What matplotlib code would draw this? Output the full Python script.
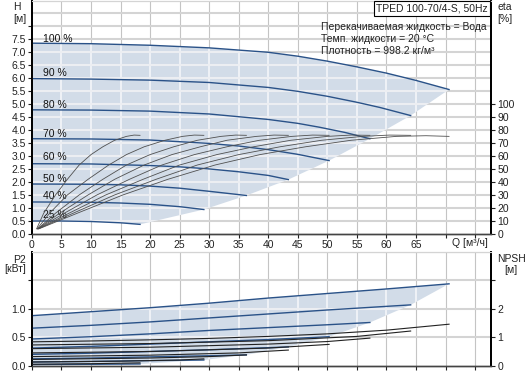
import matplotlib
matplotlib.use('Agg')
import matplotlib.pyplot as plt
from matplotlib.patches import Polygon

plt.rcParams['font.family'] = ['Liberation Sans', 'DejaVu Sans']
plt.rcParams['font.size'] = 7

W, H_PX = 531, 374

# ---------------- data ----------------
speed_labels = ['100 %', '90 %', '80 %', '70 %', '60 %', '50 %', '40 %', '25 %']
label_h = [7.50, 6.18, 4.96, 3.85, 2.97, 2.10, 1.45, 0.74]

# Q-H curves [m3/h], [m]
q_h100 = [0, 10, 20, 30, 40, 45, 50, 55, 60, 65, 70.6]
h_100 = [7.33, 7.31, 7.25, 7.15, 6.98, 6.83, 6.64, 6.42, 6.18, 5.90, 5.55]
q_h90 = [0, 10, 20, 30, 40, 45, 50, 55, 58.9, 64.1]
h_90 = [5.97, 5.95, 5.91, 5.82, 5.63, 5.48, 5.29, 5.06, 4.86, 4.55]
q_h80 = [0, 10, 20, 30, 40, 45, 48.7, 53, 57.2]
h_80 = [4.77, 4.76, 4.72, 4.61, 4.40, 4.25, 4.10, 3.90, 3.66]
q_h70 = [0, 10, 20, 30, 35, 40, 45, 50.3]
h_70 = [3.66, 3.65, 3.61, 3.48, 3.38, 3.24, 3.06, 2.82]
q_h60 = [0, 10, 20, 25, 30, 35, 40, 43.4]
h_60 = [2.70, 2.69, 2.63, 2.58, 2.50, 2.39, 2.25, 2.09]
q_h50 = [0, 10, 15, 20, 25, 30, 36.3]
h_50 = [1.92, 1.91, 1.89, 1.84, 1.76, 1.64, 1.48]
q_h40 = [0, 10, 15, 20, 25, 29.1]
h_40 = [1.23, 1.22, 1.19, 1.14, 1.05, 0.94]
q_h25 = [0, 5, 10, 15, 18.3]
h_25 = [0.50, 0.50, 0.48, 0.43, 0.37]

# efficiency curves [%]
eta_vals = [4, 16, 30, 42, 53, 61, 67, 72, 75, 76, 75.8]
q_e25 = [0.8, 2, 4, 6, 8, 10, 12, 14, 16, 17.3, 18.3]
q_e40 = [0.9, 3, 6, 9.5, 13, 16, 19, 22.5, 25.5, 27.5, 29.1]
q_e50 = [1.0, 4, 8, 12, 16, 20, 24, 28, 32, 34.5, 36.3]
q_e60 = [1.0, 4.7, 9.5, 14, 19, 23.7, 28.5, 33, 38, 41, 43.4]
q_e70 = [1.0, 5.5, 11, 16.5, 22, 27.5, 33, 38.5, 44, 47.5, 50.3]
q_e80 = [1.1, 6.3, 12.5, 18.8, 25, 31.3, 37.5, 43.8, 50, 54, 57.2]
q_e90 = [1.1, 7, 14, 21, 28, 35, 42, 49, 56, 60.5, 64.1]
q_e100 = [1.2, 7.7, 15.4, 23, 31, 38.6, 46.3, 54, 61.7, 66.7, 70.6]
eta_100 = [4, 16, 30, 42, 53, 61, 67, 72, 75, 75.5, 75]

# power curves P2 [kW]
q_p100 = [0, 10, 20, 30, 40, 50, 60, 70.6]
p_100 = [0.88, 0.95, 1.02, 1.10, 1.19, 1.27, 1.35, 1.44]
q_p90 = [0, 10, 20, 30, 40, 50, 64.1]
p_90 = [0.66, 0.71, 0.77, 0.84, 0.91, 0.98, 1.07]
q_p80 = [0, 10, 20, 30, 40, 50, 57.2]
p_80 = [0.47, 0.51, 0.56, 0.62, 0.67, 0.72, 0.76]
q_p70 = [0, 10, 20, 30, 40, 50.3]
p_70 = [0.31, 0.34, 0.38, 0.42, 0.46, 0.51]
q_p60 = [0, 10, 20, 30, 43.4]
p_60 = [0.20, 0.22, 0.25, 0.28, 0.33]
q_p50 = [0, 10, 20, 30, 36.3]
p_50 = [0.12, 0.135, 0.155, 0.175, 0.19]
q_p40 = [0, 10, 20, 29.1]
p_40 = [0.065, 0.075, 0.09, 0.10]
q_p25 = [0, 10, 18.3]
p_25 = [0.02, 0.025, 0.03]

# NPSH curves [m]
q_n100 = [0, 10, 20, 30, 40, 50, 60, 70.6]
n_100 = [0.84, 0.87, 0.91, 0.96, 1.03, 1.12, 1.25, 1.46]
q_n90 = [0, 20, 40, 55, 64.1]
n_90 = [0.73, 0.78, 0.88, 1.03, 1.22]
q_n80 = [0, 20, 40, 50, 57.2]
n_80 = [0.60, 0.65, 0.76, 0.85, 0.97]
q_n70 = [0, 20, 40, 50.3]
n_70 = [0.45, 0.50, 0.62, 0.75]
q_n60 = [0, 20, 35, 43.4]
n_60 = [0.32, 0.37, 0.45, 0.55]
q_n50 = [0, 20, 30, 36.3]
n_50 = [0.22, 0.27, 0.32, 0.38]
q_n40 = [0, 15, 25, 29.1]
n_40 = [0.13, 0.16, 0.20, 0.24]
q_n25 = [0, 10, 18.3]
n_25 = [0.05, 0.07, 0.10]

x_ticks = [0, 5, 10, 15, 20, 25, 30, 35, 40, 45, 50, 55, 60, 65, 70, 75]
x_labels = ['0', '5', '10', '15', '20', '25', '30', '35', '40', '45', '50', '55', '60', '65', '', '']
h_ticks = [0, 0.5, 1, 1.5, 2, 2.5, 3, 3.5, 4, 4.5, 5, 5.5, 6, 6.5, 7, 7.5, 8]
h_labels = ['0.0', '0.5', '1.0', '1.5', '2.0', '2.5', '3.0', '3.5', '4.0', '4.5', '5.0', '5.5',
            '6.0', '6.5', '7.0', '7.5', '']
eta_ticks = [0, 10, 20, 30, 40, 50, 60, 70, 80, 90, 100]
p_ticks = [0, 0.5, 1.0, 1.5]
p_labels = ['0.0', '0.5', '1.0', '']
n_ticks = [0, 1, 2, 3]
n_labels = ['0', '1', '2', '']

info_lines = ['Перекачиваемая жидкость = Вода', 'Темп. жидкости = 20 °C', 'Плотность = 998.2 кг/м³']
title_box = 'TPED 100-70/4-S, 50Hz'

# ---------------- styles ----------------
BLUE = '#2a5288'
SHADE = '#d2dce8'
GRID_GRAY = '#d4d4d4'
VGRID_GRAY = '#c4c4c4'
XMAX = 77.7

fig = plt.figure(figsize=(W / 100, H_PX / 100), dpi=100)


def fx(px):
    return px / W


def fy(py):
    return 1 - py / H_PX


ax1 = fig.add_axes([fx(31.9), fy(234), fx(491) - fx(31.9), fy(1) - fy(234)])
ax2 = fig.add_axes([fx(31.9), fy(365.7), fx(491) - fx(31.9), fy(252) - fy(365.7)])

h_curves = [(q_h100, h_100), (q_h90, h_90), (q_h80, h_80), (q_h70, h_70),
            (q_h60, h_60), (q_h50, h_50), (q_h40, h_40), (q_h25, h_25)]
p_curves = [(q_p100, p_100), (q_p90, p_90), (q_p80, p_80), (q_p70, p_70),
            (q_p60, p_60), (q_p50, p_50), (q_p40, p_40), (q_p25, p_25)]
n_curves = [(q_n100, n_100), (q_n90, n_90), (q_n80, n_80), (q_n70, n_70),
            (q_n60, n_60), (q_n50, n_50), (q_n40, n_40), (q_n25, n_25)]
e_curves = [(q_e100, eta_100), (q_e90, eta_vals), (q_e80, eta_vals), (q_e70, eta_vals),
            (q_e60, eta_vals), (q_e50, eta_vals), (q_e40, eta_vals), (q_e25, eta_vals)]


def region(curves):
    top_q, top_v = curves[0]
    pts = list(zip(top_q, top_v))
    for q, v in curves[1:]:
        pts.append((q[-1], v[-1]))
    q_low, v_low = curves[-1]
    pts += list(zip(q_low[::-1], v_low[::-1]))
    pts.append((0, top_v[0]))
    return pts


def draw_grid(ax, hvals, poly):
    for x in x_ticks[1:]:
        ax.axvline(x, color=VGRID_GRAY, lw=0.8, zorder=0.5)
        l = ax.axvline(x, color='#f4f6f9', lw=1.2, zorder=1.5)
        l.set_clip_path(poly)
    for y in hvals:
        ax.axhline(y, color=GRID_GRAY, lw=1.5, zorder=0.5)
        l = ax.axhline(y, color='#eceef2', lw=1.5, zorder=1.5)
        l.set_clip_path(poly)


# ---------- top: Q-H ----------
ax1.set_xlim(0, XMAX)
ax1.set_ylim(0, 8.95)
poly1 = Polygon(region(h_curves), closed=True, facecolor=SHADE, edgecolor='none', zorder=1)
ax1.add_patch(poly1)
draw_grid(ax1, [0.5 * i for i in range(1, 18)], poly1)
for (q, h), lab, ly in zip(h_curves, speed_labels, label_h):
    ax1.plot(q, h, color=BLUE, lw=1.0, zorder=3)
    ax1.text(1.8, ly, lab, ha='left', va='center', fontsize=7.5, color='#111111', zorder=5)

ax1e = ax1.twinx()
ax1e.set_ylim(0, 8.95 * 20)
for q, e in e_curves:
    ax1e.plot(q, e, color='#505050', lw=0.6, zorder=3)

ax1.set_xticks(x_ticks)
ax1.set_xticklabels(x_labels)
ax1.set_yticks(h_ticks)
ax1.set_yticklabels(h_labels)
ax1e.set_yticks(eta_ticks)
ax1e.set_yticklabels([str(t) for t in eta_ticks])

# ---------- bottom: P2 / NPSH ----------
ax2.set_xlim(0, XMAX)
ax2.set_ylim(0, 2.0)
poly2 = Polygon(region(p_curves), closed=True, facecolor=SHADE, edgecolor='none', zorder=1)
ax2.add_patch(poly2)
draw_grid(ax2, [0.5, 1.0, 1.5, 2.0], poly2)
for q, p in p_curves:
    ax2.plot(q, p, color=BLUE, lw=1.0, zorder=3)
ax2n = ax2.twinx()
ax2n.set_ylim(0, 4.0)
for q, n in n_curves:
    ax2n.plot(q, n, color='#222222', lw=0.8, zorder=3)

ax2.set_xticks(x_ticks)
ax2.set_xticklabels([])
ax2.set_yticks(p_ticks)
ax2.set_yticklabels(p_labels)
ax2n.set_yticks(n_ticks)
ax2n.set_yticklabels(n_labels)

for ax in (ax1, ax2, ax1e, ax2n):
    ax.tick_params(axis='both', direction='out', length=3, width=0.8, pad=1.5,
                   labelsize=7.5, colors='#222222')
    ax.spines['left'].set_color('#000000')
    ax.spines['left'].set_linewidth(1.3)
    ax.spines['right'].set_color('#000000')
    ax.spines['right'].set_linewidth(1.3)
    ax.spines['top'].set_color(GRID_GRAY)
    ax.spines['bottom'].set_color('#444444')
    ax.spines['bottom'].set_linewidth(1.0)
    ax.set_facecolor('none')

# ---------- texts ----------
tc = '#222222'
fig.text(fx(17), fy(7), 'H', ha='center', va='center', fontsize=7.5, color=tc)
fig.text(fx(20), fy(18.5), '[м]', ha='center', va='center', fontsize=7.5, color=tc)
fig.text(fx(505), fy(7), 'eta', ha='center', va='center', fontsize=7.5, color=tc)
fig.text(fx(505), fy(18.5), '[%]', ha='center', va='center', fontsize=7.5, color=tc)
fig.text(fx(19), fy(260), 'P2', ha='center', va='center', fontsize=7.5, color=tc)
fig.text(fx(15), fy(269.5), '[кВт]', ha='center', va='center', fontsize=7.5, color=tc)
fig.text(fx(511), fy(258.5), 'NPSH', ha='center', va='center', fontsize=7.5, color=tc)
fig.text(fx(511), fy(270), '[м]', ha='center', va='center', fontsize=7.5, color=tc)
fig.text(fx(470), fy(242.5), 'Q [м³/ч]', ha='center', va='center', fontsize=7.5, color=tc)

for i, line in enumerate(info_lines):
    fig.text(fx(321), fy(26.7 + 12.0 * i), line, ha='left', va='center', fontsize=7.5, color=tc)
fig.text(fx(432), fy(8.5), title_box, ha='center', va='center', fontsize=7.5, color=tc,
         bbox=dict(boxstyle='square,pad=0.25', facecolor='white', edgecolor='#000000', lw=0.8))

fig.savefig('out.png', dpi=100)
